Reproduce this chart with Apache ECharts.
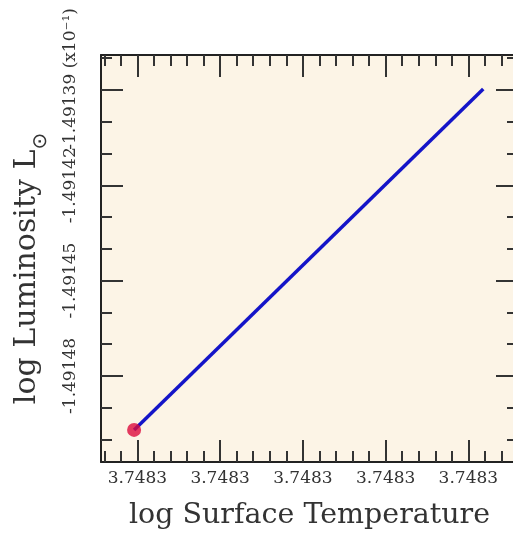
<!DOCTYPE html>
<html>
<head>
<meta charset="utf-8">
<script src="https://cdn.jsdelivr.net/npm/echarts@6/dist/echarts.min.js"></script>
<style>
html,body{margin:0;padding:0;background:#fff;}
#chart{width:513px;height:540px;}
</style>
</head>
<body>
<div id="chart"></div>
<script>
// ---- data ----
const logTeff = [3.7482998, 3.7483209];
const logL = [-1.4914970, -1.4913897];
const startTeff = [3.7482998];
const startL = [-1.4914970];

// axis ranges
const xRange = [3.7482978, 3.7483230];
const yRange = [-1.4915071, -1.4913790];

// major ticks and their labels
const xTicks = [3.7483, 3.748305, 3.74831, 3.748315, 3.74832];
const xTickLabels = ['3.7483', '3.7483', '3.7483', '3.7483', '3.7483'];
const yTicks = [-1.49148, -1.49145, -1.49142, -1.49139];
const yTickLabels = ['-1.49148', '-1.49145', '-1.49142', '-1.49139 (x10⁻¹)'];

// minor ticks (in integer units to avoid float noise)
const xMinor = [];
for (let i = 3748298; i <= 3748323; i++) xMinor.push(i / 1e6);
const yMinor = [];
for (let i = -149150; i <= -149138; i++) yMinor.push(i / 1e5);

const FONT = 'DejaVu Serif, Liberation Serif, serif';
const lineCol = '#222';
const tickCol = '#333';

function nearestLabel(ticks, labels, v) {
  let best = 0, bd = Infinity;
  ticks.forEach((t, i) => { const d = Math.abs(t - v); if (d < bd) { bd = d; best = i; } });
  return labels[best];
}

function xAx(pos, ticks, len, withLine, withLabel) {
  return {
    type: 'value', position: pos, min: xRange[0], max: xRange[1], scale: true,
    axisLine: { show: withLine, onZero: false, lineStyle: { color: lineCol, width: 2 } },
    axisTick: { show: true, inside: true, length: len, customValues: ticks, lineStyle: { color: tickCol, width: 2 } },
    axisLabel: withLabel ? {
      show: true, customValues: xTicks, margin: 8, fontFamily: FONT, fontSize: 17, color: '#333',
      hideOverlap: false, showMinLabel: true, showMaxLabel: true,
      formatter: v => nearestLabel(xTicks, xTickLabels, v)
    } : { show: false },
    splitLine: { show: false },
    name: withLabel ? 'log Surface Temperature' : '',
    nameLocation: 'middle', nameGap: 39,
    nameTextStyle: { fontFamily: FONT, fontSize: 28.5, color: '#333' }
  };
}
// labelTicks: which major tick values this axis writes labels for
function yAx(pos, ticks, len, withLine, labelTicks, withName, labelPad) {
  return {
    type: 'value', position: pos, min: yRange[0], max: yRange[1], scale: true,
    axisLine: { show: withLine, onZero: false, lineStyle: { color: lineCol, width: 2 } },
    axisTick: { show: true, inside: true, length: len, customValues: ticks, lineStyle: { color: tickCol, width: 2 } },
    axisLabel: labelTicks ? {
      show: true, customValues: labelTicks, rotate: 90, margin: 22, fontFamily: FONT, fontSize: 17, color: '#333',
      hideOverlap: false, showMinLabel: true, showMaxLabel: true, padding: labelPad || 0,
      formatter: v => nearestLabel(yTicks, yTickLabels, v)
    } : { show: false },
    splitLine: { show: false },
    name: withName ? '{a|log Luminosity L}{b|⊙}' : '',
    nameLocation: 'middle', nameGap: 50, nameRotate: 90,
    nameTextStyle: {
      fontFamily: FONT, fontSize: 30, color: '#333', padding: [0, 20, 0, 0],
      rich: {
        a: { fontFamily: FONT, fontSize: 30, color: '#333', padding: [0, 0, 9, 0], verticalAlign: 'top' },
        b: { fontFamily: 'DejaVu Sans, ' + FONT, fontSize: 20, color: '#333', verticalAlign: 'bottom' }
      }
    }
  };
}

const chart = echarts.init(document.getElementById('chart'), null, { renderer: 'canvas' });
chart.setOption({
  animation: false,
  backgroundColor: '#ffffff',
  grid: {
    left: 101, top: 55, width: 417, height: 407, show: true, backgroundColor: '#fcf4e6', borderWidth: 0,
    containLabel: false, outerBoundsMode: 'none'
  },
  xAxis: [
    xAx('bottom', xTicks, 22, true, true),
    xAx('bottom', xMinor, 11, false, false),
    xAx('top', xTicks, 22, true, false),
    xAx('top', xMinor, 11, false, false)
  ],
  yAxis: [
    yAx('left', yTicks, 22, true, yTicks.slice(0, 3), true),
    yAx('left', yMinor, 11, false, yTicks.slice(3), false, [0, 0, 0, 22]),
    yAx('right', yTicks, 22, true, null, false),
    yAx('right', yMinor, 11, false, null, false)
  ],
  series: [
    {
      type: 'line', xAxisIndex: 0, yAxisIndex: 0,
      data: logTeff.map((x, i) => [x, logL[i]]),
      showSymbol: false, symbol: 'none',
      lineStyle: { color: '#1414c8', width: 3.5 }, z: 3
    },
    {
      type: 'scatter', xAxisIndex: 0, yAxisIndex: 0,
      data: startTeff.map((x, i) => [x, startL[i]]),
      symbol: 'circle', symbolSize: 14,
      itemStyle: { color: '#dc0a3c' }, z: 4
    }
  ]
});
</script>
</body>
</html>
